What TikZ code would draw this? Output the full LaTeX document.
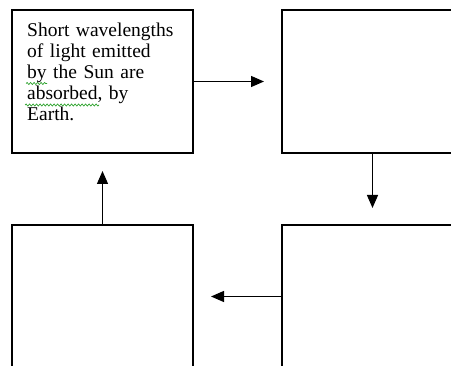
\documentclass[tikz,border=0pt]{standalone}
\usepackage{fontspec}
\setmainfont{Liberation Serif}
\usetikzlibrary{arrows.meta,decorations.pathmorphing}
\definecolor{spellgreen}{RGB}{40,160,40}
\begin{document}
\begin{tikzpicture}[x=1pt,y=-1pt,
  boxst/.style={draw=black,line width=1.3pt,rectangle,minimum width=181pt,minimum height=143pt,inner sep=0pt,outer sep=0pt},
  arr/.style={draw=black,line width=1.3pt,-{Triangle[length=13pt,width=11pt]}},
  wavy/.style={draw=spellgreen,line width=0.7pt,decorate,decoration={snake,amplitude=1pt,segment length=3.5pt}},
  txt/.style={font=\fontsize{19.5}{20.8}\selectfont,text width=165pt,align=left,inner sep=0pt,anchor=base west}]
\clip (0,0) rectangle (451,366);
\node[boxst] (b1) at (102.5,81.5) {};
\node[boxst] (b2) at (372.5,81.5) {};
\node[boxst] (b3) at (102.5,296.5) {};
\node[boxst] (b4) at (372.5,296.5) {};
\node[txt] (t1) at (27,37) {Short wavelengths\\of light emitted\\by the Sun are\\absorbed, by\\Earth.};
\draw[wavy] (26,83.5) -- (47,83.5);
\draw[wavy] (25,105) -- (99,105);
\coordinate (e1) at (264,81.5);
\coordinate (e2) at (372.5,208);
\coordinate (e3) at (211,296.5);
\coordinate (e4) at (102.5,171);
\draw[arr] (b1.east) -- (e1);
\draw[arr] (b2.south) -- (e2);
\draw[arr] (b4.west) -- (e3);
\draw[arr] (b3.north) -- (e4);
\end{tikzpicture}
\end{document}
